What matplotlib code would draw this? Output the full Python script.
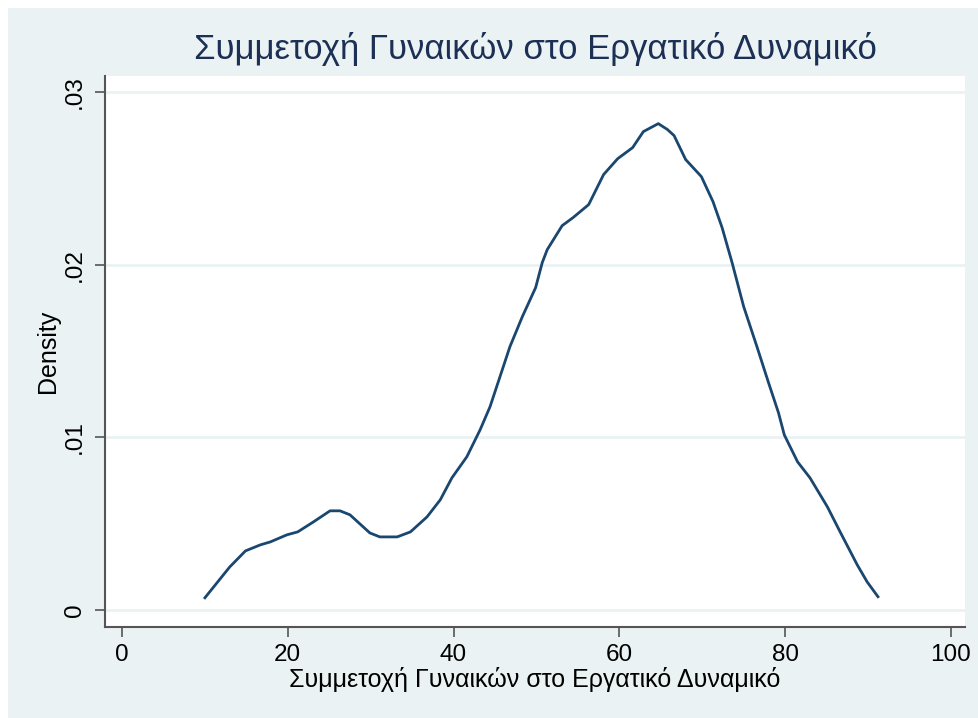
import matplotlib
matplotlib.use("Agg")
import matplotlib.pyplot as plt
from matplotlib.patches import Rectangle

# Kernel density curve (x = participation %, y = density)
x_vals = [9.9, 13.0, 14.9, 16.7, 17.9, 19.9, 21.2, 23.1, 25.1, 26.3, 27.5, 29.9,
          31.1, 33.2, 34.8, 36.8, 38.4, 39.8, 41.6, 43.2, 44.4, 45.6, 46.8, 48.3,
          49.9, 50.7, 51.3, 53.1, 54.4, 56.3, 58.1, 59.8, 61.6, 62.9, 64.7, 65.8,
          66.6, 68.0, 69.9, 71.3, 72.4, 73.6, 75.0, 76.6, 78.0, 79.2, 79.9, 81.5,
          83.0, 85.1, 86.7, 88.7, 89.9, 91.3]
density = [0.00064, 0.00249, 0.00342, 0.00377, 0.00394, 0.00435, 0.00452, 0.00510,
           0.00574, 0.00574, 0.00551, 0.00446, 0.00423, 0.00423, 0.00452, 0.00539,
           0.00638, 0.00765, 0.00887, 0.01043, 0.01177, 0.01351, 0.01525, 0.01699,
           0.01867, 0.02012, 0.02087, 0.02226, 0.02272, 0.02348, 0.02522, 0.02614,
           0.02678, 0.02771, 0.02817, 0.02783, 0.02748, 0.02609, 0.02510, 0.02365,
           0.02214, 0.02012, 0.01757, 0.01525, 0.01316, 0.01142, 0.01014, 0.00858,
           0.00765, 0.00597, 0.00446, 0.00261, 0.00162, 0.00070]

x_ticks = [0, 20, 40, 60, 80, 100]
y_ticks = [0, 0.01, 0.02, 0.03]
y_ticklabels = ["0", ".01", ".02", ".03"]

title = "Συμμετοχή Γυναικών στο Εργατικό Δυναμικό"
x_label = "Συμμετοχή Γυναικών στο Εργατικό Δυναμικό"
y_label = "Density"

# Stata s2color look
BG = "#eaf2f3"
LINE = "#1a476f"
AXIS = "#555555"
W, H = 979, 718

plt.rcParams["font.family"] = ["Liberation Sans", "DejaVu Sans"]

fig = plt.figure(figsize=(W / 100, H / 100), dpi=100, facecolor="white")
fig.patches.append(Rectangle((8 / W, 0), 1, (H - 8) / H, transform=fig.transFigure,
                             facecolor=BG, edgecolor="none", zorder=-1))

ax = fig.add_axes([105 / W, (H - 627) / H, (965 - 105) / W, (627 - 76) / H])
ax.set_facecolor("white")

ax.plot(x_vals, density, color=LINE, lw=2.0, solid_capstyle="butt")

ax.set_xlim(-2.05, 101.7)
ax.set_ylim(-0.00099, 0.03093)
ax.set_xticks(x_ticks)
ax.set_yticks(y_ticks)
ax.set_yticklabels(y_ticklabels, rotation=90, va="center")

ax.grid(axis="y", color=BG, lw=2)
ax.set_axisbelow(True)
for s in ["top", "right"]:
    ax.spines[s].set_visible(False)
for s in ["left", "bottom"]:
    ax.spines[s].set_color(AXIS)
    ax.spines[s].set_linewidth(1.5)
ax.tick_params(length=7, width=1.2, color=AXIS, labelsize=17.5, labelcolor="black")
ax.tick_params(axis="x", pad=5)
ax.tick_params(axis="y", pad=7)

ax.set_ylabel(y_label, fontsize=18)
ax.yaxis.set_label_coords((60 - 105) / 860, 0.5)

# x title and main title placed by baseline, as in the reference
fig.text(535 / W, (H - 687) / H, x_label, ha="center", va="baseline", fontsize=18)
fig.text(535 / W, (H - 59) / H, title, ha="center", va="baseline", fontsize=25,
         color="#1c2f55")

fig.savefig("out.png", dpi=100, facecolor=fig.get_facecolor())
